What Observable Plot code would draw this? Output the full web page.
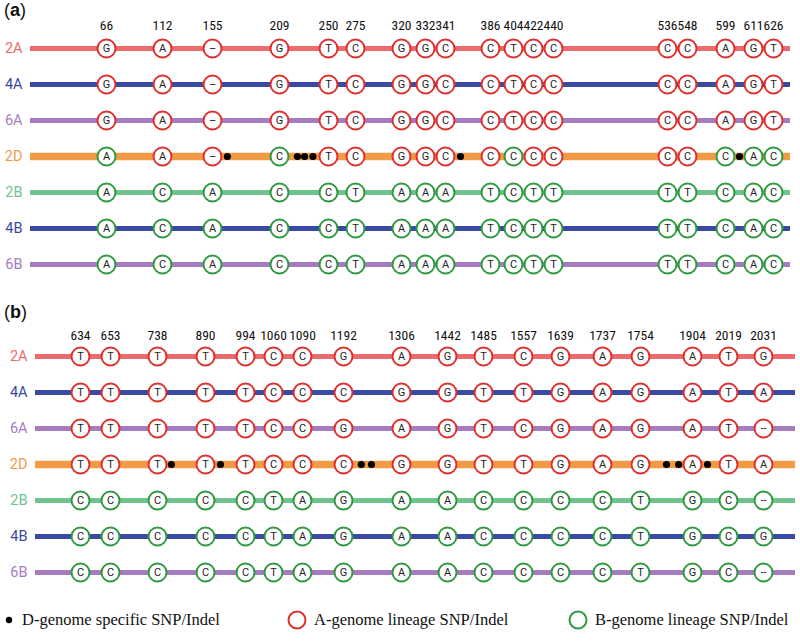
<!DOCTYPE html>
<html>
<head>
<meta charset="utf-8">
<script src="https://cdn.jsdelivr.net/npm/d3@7"></script>
<script src="https://cdn.jsdelivr.net/npm/@observablehq/plot@0.6"></script>
<style>
  body { margin: 0; background: #fff; }
  #wrap { position: relative; width: 800px; height: 642px; font-family: Roboto, "Noto Sans", sans-serif; }
  .panel { position: absolute; left: 0; }
  .tag { position: absolute; left: 4px; font-family: "Liberation Sans", Arial, sans-serif; font-size: 18px; color: #111; }
  .leg { position: absolute; top: 609px; font-family: "Liberation Serif", "Times New Roman", serif; font-size: 16.5px; color: #111; display: flex; align-items: center; gap: 6px; white-space: nowrap; }
</style>
</head>
<body>
<div id="wrap"></div>
<script>
// ---------- data ----------
const rows = ["2A", "4A", "6A", "2D", "2B", "4B", "6B"];
const rowLineage = ["A", "A", "A", "D", "B", "B", "B"];

// panel (a)
const sitesA = [66, 112, 155, 209, 250, 275, 320, 332, 341, 386, 404, 422, 440, 536, 548, 599, 611, 626];
const a_2A = ["G","A","–","G","T","C","G","G","C","C","T","C","C","C","C","A","G","T"];
const a_4A = ["G","A","–","G","T","C","G","G","C","C","T","C","C","C","C","A","G","T"];
const a_6A = ["G","A","–","G","T","C","G","G","C","C","T","C","C","C","C","A","G","T"];
const a_2D = ["A","A","–","C","T","C","G","G","C","C","C","C","C","C","C","C","A","C"];
const a_2B = ["A","C","A","C","C","T","A","A","A","T","C","T","T","T","T","C","A","C"];
const a_4B = ["A","C","A","C","C","T","A","A","A","T","C","T","T","T","T","C","A","C"];
const a_6B = ["A","C","A","C","C","T","A","A","A","T","C","T","T","T","T","C","A","C"];
const a_lin2D = ["B","A","A","B","A","A","A","A","A","A","B","A","A","A","A","B","B","B"];
const a_dSites = [167, 224, 230, 237, 356, 605];

// panel (b)
const sitesB = [634, 653, 738, 890, 994, 1060, 1090, 1192, 1306, 1442, 1485, 1557, 1639, 1737, 1754, 1904, 2019, 2031];
const b_2A = ["T","T","T","T","T","C","C","G","A","G","T","C","G","A","G","A","T","G"];
const b_4A = ["T","T","T","T","T","C","C","C","G","G","T","T","G","A","G","A","T","A"];
const b_6A = ["T","T","T","T","T","C","C","G","A","G","T","C","G","A","G","A","T","--"];
const b_2D = ["T","T","T","T","T","C","C","C","G","G","T","T","G","A","G","A","T","A"];
const b_2B = ["C","C","C","C","C","T","A","G","A","A","C","C","C","C","T","G","C","--"];
const b_4B = ["C","C","C","C","C","T","A","G","A","A","C","C","C","C","T","G","C","G"];
const b_6B = ["C","C","C","C","C","T","A","G","A","A","C","C","C","C","T","G","C","--"];
const b_lin2D = ["A","A","A","A","A","A","A","A","A","A","A","A","A","A","A","A","A","A"];
const b_dSites = [782, 929, 1227, 1247, 1829, 1864, 1952];

// ---------- layout / styles ----------
const rowColor = {"2A": "#ec6b6c", "4A": "#3a49a2", "6A": "#a57cbf", "2D": "#f29b46", "2B": "#70c28f", "4B": "#3a49a2", "6B": "#a57cbf"};
const ringColor = {A: "#e0302e", B: "#2f9a40"};
const xLayoutA = [106, 162, 212, 279, 328, 355, 401, 425, 445, 490, 513, 533, 553, 667, 687, 725, 753, 773];
const xLayoutB = [80, 110, 157, 205, 245, 273, 302, 343, 401, 447, 483, 523, 560, 602, 640, 692, 728, 763];
const labelFont = "'Liberation Sans Narrow', 'Roboto Condensed', Roboto, sans-serif";

function panel({sites, bases, lin2D, dSites, xRange, marginLeft, marginRight, yRange, labelY, height}) {
  const cells = [];
  rows.forEach((r, j) => bases[j].forEach((b, i) => cells.push({
    row: r, site: sites[i], base: b, lin: r === "2D" ? lin2D[i] : rowLineage[j]
  })));
  return Plot.plot({
    width: 800, height, marginLeft, marginRight, marginTop: 0, marginBottom: 0,
    style: {fontFamily: "Roboto, 'Noto Sans', sans-serif", background: "transparent"},
    x: {type: "linear", domain: sites, range: xRange, axis: null},
    y: {type: "point", domain: rows, range: yRange, padding: 0, axis: null},
    color: {type: "identity"},
    marks: [
      Plot.ruleY(rows.filter(r => r !== "2D"), {y: d => d, stroke: d => rowColor[d], strokeWidth: 5}),
      Plot.ruleY(["2D"], {y: d => d, stroke: rowColor["2D"], strokeWidth: 7.5}),
      Plot.text(rows, {y: d => d, text: d => d, frameAnchor: "left", dx: -8, textAnchor: "end", fill: d => rowColor[d], fontSize: 14.5}),
      Plot.text(sites, {x: d => d, text: d => String(d), frameAnchor: "top", dy: labelY, fontSize: 13.5, fontFamily: labelFont, fill: "#111"}),
      Plot.dot(cells, {x: "site", y: "row", r: 9, fill: "white", stroke: d => ringColor[d.lin], strokeWidth: 2}),
      Plot.text(cells, {x: "site", y: "row", text: "base", fontSize: 11, fill: "#222"}),
      Plot.dot(dSites, {x: d => d, y: () => "2D", r: 3.6, fill: "black"})
    ]
  });
}

const wrap = document.getElementById("wrap");

const pa = panel({sites: sitesA, bases: [a_2A, a_4A, a_6A, a_2D, a_2B, a_4B, a_6B], lin2D: a_lin2D, dSites: a_dSites,
  xRange: xLayoutA, marginLeft: 30, marginRight: 10, yRange: [47, 264], labelY: 20, height: 290});
pa.classList.add("panel"); pa.style.top = "0px";
wrap.appendChild(pa);

const pb = panel({sites: sitesB, bases: [b_2A, b_4A, b_6A, b_2D, b_2B, b_4B, b_6B], lin2D: b_lin2D, dSites: b_dSites,
  xRange: xLayoutB, marginLeft: 35, marginRight: 5, yRange: [66, 282], labelY: 40, height: 300});
pb.classList.add("panel"); pb.style.top = "290px";
wrap.appendChild(pb);

function tag(letter, top) {
  const d = document.createElement("div");
  d.className = "tag"; d.style.top = top + "px";
  d.innerHTML = "(<b>" + letter + "</b>)";
  wrap.appendChild(d);
}
tag("a", 0);
tag("b", 302);

// legend
const legendItems = [
  {label: "D-genome specific SNP/Indel", kind: "dot", left: 4},
  {label: "A-genome lineage SNP/Indel", kind: "A", left: 286},
  {label: "B-genome lineage SNP/Indel", kind: "B", left: 567}
];
legendItems.forEach(it => {
  const d = document.createElement("div");
  d.className = "leg"; d.style.left = it.left + "px";
  const sym = it.kind === "dot"
    ? '<svg width="12" height="22"><circle cx="5" cy="11" r="3.2" fill="black"/></svg>'
    : `<svg width="22" height="22"><circle cx="11" cy="11" r="8.5" fill="white" stroke="${ringColor[it.kind]}" stroke-width="2"/></svg>`;
  d.innerHTML = sym + "<span>" + it.label + "</span>";
  wrap.appendChild(d);
});
</script>
</body>
</html>
